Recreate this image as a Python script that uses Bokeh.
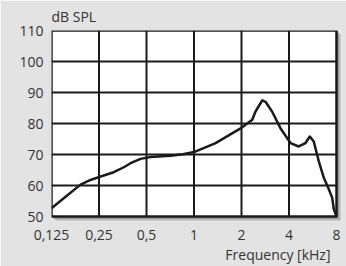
from bokeh.plotting import figure
from bokeh.models import Range1d, FixedTicker, CustomJSTickFormatter, Title
from bokeh.embed import file_html
from bokeh.resources import INLINE

# Data
freq_khz = [0.125, 0.157, 0.191, 0.221, 0.256, 0.31, 0.359, 0.396, 0.458, 0.53,
            0.71, 0.85, 1.0, 1.37, 1.70, 2.0, 2.34, 2.45, 2.71, 2.84, 3.13, 3.53,
            4.09, 4.61, 5.09, 5.42, 5.74, 6.18, 6.65, 7.15, 7.51, 7.69, 8.0]
spl_db = [52.7, 56.8, 60.3, 61.8, 62.9, 64.3, 65.9, 67.2, 68.6, 69.2,
          69.6, 70.1, 70.8, 73.7, 76.5, 78.6, 81.2, 83.8, 87.5, 87.0, 83.8, 78.5,
          73.7, 72.6, 73.7, 75.8, 74.2, 67.8, 62.5, 58.8, 56.1, 52.4, 50.0]
x_ticks = [0.125, 0.25, 0.5, 1, 2, 4, 8]
y_ticks = [50, 60, 70, 80, 90, 100, 110]

FONT = "Open Sans"
TXT = "#333333"
BG = "#e3e3e3"
INK = "#1a1a1a"

x_lo, x_hi = x_ticks[0], x_ticks[-1]
y_lo, y_hi = y_ticks[0], y_ticks[-1]

# frame geometry (pixels): chart box 285x188, plus 5px room for a drop shadow
BOX_W, BOX_H, SH = 285, 188, 5
oct_px = BOX_W / 6.0
db_px = BOX_H / float(y_hi - y_lo)


def xs(k):  # shift factor for k pixels on the log2 axis
    return 2 ** (k / oct_px)


def ys(k):  # dB for k pixels
    return k / db_px


p = figure(width=346, height=266, x_axis_type="log",
           x_range=Range1d(x_lo, x_hi * xs(SH)), y_range=Range1d(y_lo - ys(SH), y_hi),
           output_backend="svg", toolbar_location=None,
           min_border_left=51, min_border_right=5, min_border_top=28, min_border_bottom=45)
p.background_fill_color = BG
p.border_fill_color = BG
p.outline_line_color = None
p.xgrid.visible = False
p.ygrid.visible = False

# drop shadow: stacked offset boxes, lightest/farthest first
shadow_cols = ["#d6d6d6", "#c2c2c2", "#aaaaaa", "#939393", "#7e7e7e"]
for i, c in enumerate(shadow_cols):
    k = SH - i
    p.quad(left=[x_lo * xs(k)], right=[x_hi * xs(k)], bottom=[y_lo - ys(k)], top=[y_hi - ys(k)],
           fill_color=c, line_color=None)

# white chart box
p.quad(left=[x_lo], right=[x_hi], bottom=[y_lo], top=[y_hi], fill_color="white", line_color=None)

# grid lines from the tick lists
vx = x_ticks[1:-1]
p.segment(x0=vx, x1=vx, y0=[y_lo] * len(vx), y1=[y_hi] * len(vx), line_color=INK, line_width=2)
hy = y_ticks[1:-1]
p.segment(x0=[x_lo] * len(hy), x1=[x_hi] * len(hy), y0=hy, y1=hy, line_color=INK, line_width=2)

p.line(freq_khz, spl_db, line_color=INK, line_width=2.5, line_join="round")

# box outline
p.quad(left=[x_lo], right=[x_hi], bottom=[y_lo], top=[y_hi], fill_color=None,
       line_color=INK, line_width=2.5)

for ax in (p.xaxis[0], p.yaxis[0]):
    ax.axis_line_color = None
    ax.major_tick_line_color = None
    ax.minor_tick_line_color = None
    ax.major_tick_out = 0
    ax.major_tick_in = 0
    ax.minor_tick_out = 0
    ax.major_label_text_font = FONT
    ax.major_label_text_font_size = "14px"
    ax.major_label_text_color = TXT

p.xaxis.ticker = FixedTicker(ticks=x_ticks)
p.xaxis.formatter = CustomJSTickFormatter(code="return String(tick).replace('.', ',')")
p.xaxis.major_label_standoff = 8
p.yaxis.ticker = FixedTicker(ticks=y_ticks)
p.yaxis.major_label_standoff = 8

p.add_layout(Title(text="dB SPL", align="left", text_font=FONT, text_font_size="14px",
                   text_font_style="normal", text_color=TXT, standoff=9), "above")
p.add_layout(Title(text="Frequency [kHz]", align="right", text_font=FONT, text_font_size="14px",
                   text_font_style="normal", text_color=TXT, standoff=0, offset=11), "below")

open("out.html", "w").write(file_html(p, INLINE))
